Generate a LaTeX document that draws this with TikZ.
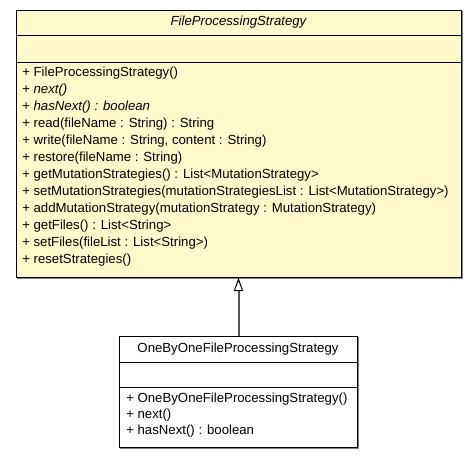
\documentclass[tikz,border=0pt]{standalone}
\usepackage{fontspec}
\setmainfont{Liberation Sans}
\usetikzlibrary{arrows.meta}
\definecolor{classfill}{HTML}{FFF9CC}
\definecolor{shadowgray}{HTML}{808080}
\definecolor{linkgray}{HTML}{555555}
\begin{document}
\begin{tikzpicture}[x=0.75pt,y=-0.75pt,
  classbox/.style={draw=black, line width=0.75pt, fill=#1, inner sep=0pt, anchor=north west},
  shadowline/.style={draw=shadowgray, line width=0.75pt},
  divider/.style={draw=black, line width=0.75pt},
  txt/.style={inner sep=0pt, font=\fontsize{9.9}{11}\selectfont},
  member/.style={txt, anchor=west},
  generalization/.style={draw=linkgray, line width=1.5pt,
    -{Triangle[open, length=9.75pt, width=7pt, line width=0.75pt, color=black, fill=white]}}]
\useasboundingbox (0,0) rectangle (476,457);

% abstract parent class
\draw[shadowline] (17,278) -- (462,278) -- (462,11);
\node[classbox=classfill, minimum width=333.75pt, minimum height=200.25pt] (parent) at (16,10) {};
\draw[divider] (16,35) -- (461,35);
\draw[divider] (16,62) -- (461,62);
\node[txt, font=\fontsize{9.9}{11}\selectfont\itshape] (ptitle) at (238.5,22.5) {FileProcessingStrategy};
\node[member] (p1)  at (22,73)  {+ FileProcessingStrategy()};
\node[member] (p2)  at (22,90)  {+ \textit{next()}};
\node[member] (p3)  at (22,107) {+ \textit{hasNext() : boolean}};
\node[member] (p4)  at (22,124) {+ read(fileName : String) : String};
\node[member] (p5)  at (22,141) {+ write(fileName : String, content : String)};
\node[member] (p6)  at (22,158) {+ restore(fileName : String)};
\node[member] (p7)  at (22,175) {+ getMutationStrategies() : List<MutationStrategy>};
\node[member] (p8)  at (22,192) {+ setMutationStrategies(mutationStrategiesList : List<MutationStrategy>)};
\node[member] (p9)  at (22,209) {+ addMutationStrategy(mutationStrategy : MutationStrategy)};
\node[member] (p10) at (22,226) {+ getFiles() : List<String>};
\node[member] (p11) at (22,243) {+ setFiles(fileList : List<String>)};
\node[member] (p12) at (22,260) {+ resetStrategies()};

% concrete subclass
\draw[shadowline] (120,448) -- (358,448) -- (358,337);
\node[classbox=white, minimum width=178.5pt, minimum height=83.25pt] (child) at (119,336) {};
\draw[divider] (119,362) -- (357,362);
\draw[divider] (119,387) -- (357,387);
\node[txt] (ctitle) at (238,349) {OneByOneFileProcessingStrategy};
\node[member] (c1) at (126,399) {+ OneByOneFileProcessingStrategy()};
\node[member] (c2) at (126,415) {+ next()};
\node[member] (c3) at (126,431) {+ hasNext() : boolean};

% inheritance link
\draw[generalization] (child.north) -- (child.north |- parent.south);
\end{tikzpicture}
\end{document}
